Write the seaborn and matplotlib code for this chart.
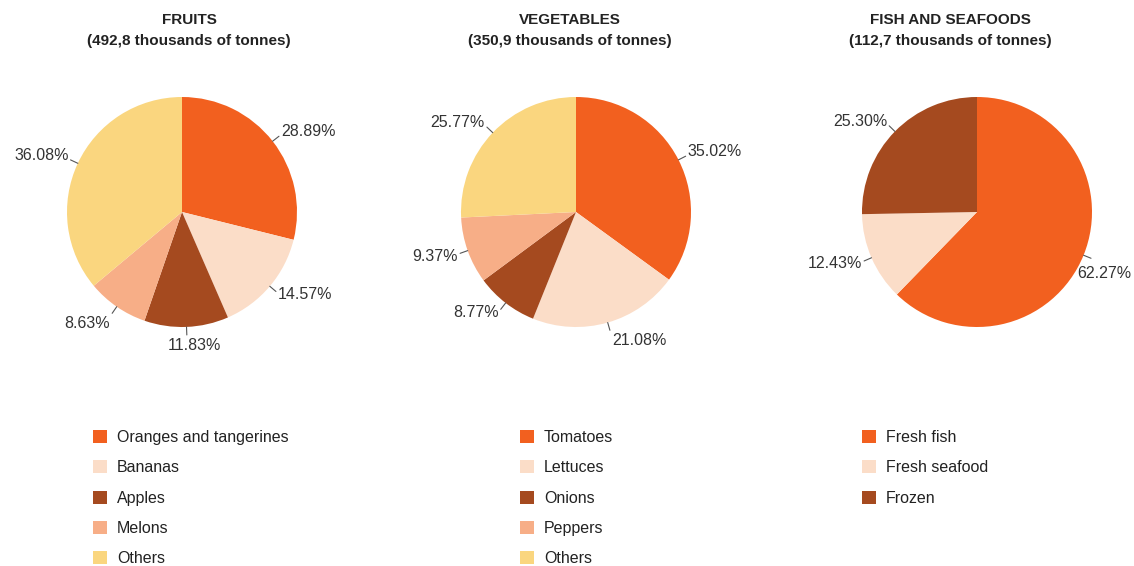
import matplotlib
matplotlib.use("Agg")
import matplotlib.pyplot as plt
from matplotlib.patches import Patch
import numpy as np
import seaborn as sns

sns.set_theme(style="white")
plt.rcParams['font.family'] = ['Liberation Sans', 'DejaVu Sans']

# ---- data ----
fruit_labels = ["Oranges and tangerines", "Bananas", "Apples", "Melons", "Others"]
fruit_values = [28.89, 14.57, 11.83, 8.63, 36.08]
veg_labels = ["Tomatoes", "Lettuces", "Onions", "Peppers", "Others"]
veg_values = [35.02, 21.08, 8.77, 9.37, 25.77]
fish_labels = ["Fresh fish", "Fresh seafood", "Frozen"]
fish_values = [62.27, 12.43, 25.30]
title_main = ["FRUITS", "VEGETABLES", "FISH AND SEAFOODS"]
title_sub = ["(492,8 thousands of tonnes)", "(350,9 thousands of tonnes)",
             "(112,7 thousands of tonnes)"]

palette = sns.color_palette(["#F2601F", "#FBDDC8", "#A54A1F", "#F7AE87", "#FAD67F"])

W, H = 1134, 566
fig = plt.figure(figsize=(W / 100, H / 100), dpi=100)
fig.patch.set_facecolor("white")
renderer = fig.canvas.get_renderer()

centers = [(182, 212), (576, 212), (977, 212)]
R = 115
title_x = [189, 570, 950]
legend_x = [93, 520, 862]
datasets = [(fruit_labels, fruit_values), (veg_labels, veg_values), (fish_labels, fish_values)]

for i, ((labels, values), (cx, cy)) in enumerate(zip(datasets, centers)):
    ax = fig.add_axes([(cx - R) / W, 1 - (cy + R) / H, 2 * R / W, 2 * R / H])
    cols = palette[:len(values)]
    wedges, _ = ax.pie(values, colors=cols, startangle=90, counterclock=False,
                       radius=1, wedgeprops=dict(linewidth=0))
    ax.set_xlim(-1, 1)
    ax.set_ylim(-1, 1)
    ax.set_aspect("equal")
    ax.axis("off")
    for w, v in zip(wedges, values):
        ang = np.deg2rad((w.theta1 + w.theta2) / 2)
        x, y = np.cos(ang), np.sin(ang)
        ax.plot([x * 1.0, x * 1.07], [y * 1.0, y * 1.07], color="#555555",
                lw=0.8, clip_on=False)
        ha = "left" if x > 0.1 else ("right" if x < -0.1 else "center")
        if y > 0.3:
            va = "bottom"
        elif y < -0.8:
            va = "top"
        else:
            va = "center"
        dx = 2 if x > 0.1 else (-2 if x < -0.1 else 8)
        dy = -3
        t = ax.annotate(f"{v:.2f}%", xy=(x * 1.07, y * 1.07), xytext=(dx, dy),
                        textcoords="offset pixels", ha=ha, va=va,
                        fontsize=11.5, color="#333333", annotation_clip=False)
        # keep label inside the figure: drop it below the leader line if it overflows
        bb = t.get_window_extent(renderer)
        if bb.x1 > W - 3:
            t.xy = (x * 1.0, y * 1.07)
            t.set_va("top")
            t.xyann = (0, -8)
            bb = t.get_window_extent(renderer)
            over = bb.x1 - (W - 3)
            if over > 0:
                t.xyann = (-over, -8)
    fig.text(title_x[i] / W, 1 - 20 / H, title_main[i], ha="center", va="center",
             fontsize=11, fontweight="bold", color="#222222")
    fig.text(title_x[i] / W, 1 - 41 / H, title_sub[i], ha="center", va="center",
             fontsize=11, fontweight="bold", color="#222222")
    handles = [Patch(facecolor=c, edgecolor="none") for c in cols]
    fig.legend(handles, labels, loc="upper left",
               bbox_to_anchor=(legend_x[i] / W, 1 - 430 / H),
               frameon=False, borderpad=0, borderaxespad=0,
               fontsize=11.5, handlelength=0.875, handleheight=0.875,
               handletextpad=0.62, labelspacing=0.96, labelcolor="#222222")

fig.savefig("out.png", dpi=100, facecolor="white")
